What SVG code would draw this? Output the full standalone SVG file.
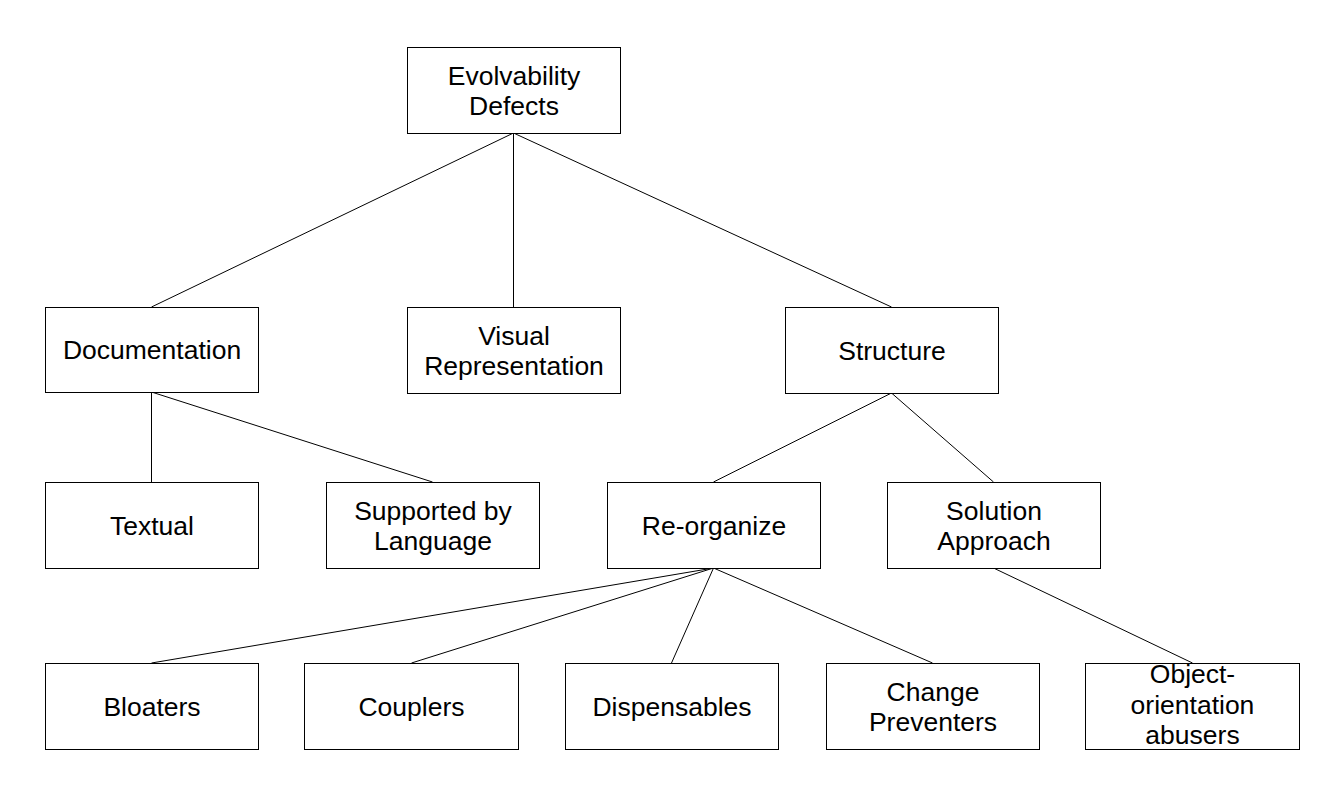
<svg xmlns="http://www.w3.org/2000/svg" width="1319" height="786" viewBox="0 0 1319 786">
<style>
.box{fill:#fff;stroke:#000;stroke-width:1}
.lbl{font-family:"Liberation Sans",Arial,sans-serif;font-size:26.5px;fill:#000;text-anchor:middle}
.con line{stroke:#000;stroke-width:1}
</style>
<rect width="1319" height="786" fill="#fff"/>
<g class="con" id="connectors">
<line x1="513.5" y1="133" x2="151.5" y2="307"/>
<line x1="513.5" y1="133" x2="513.5" y2="307"/>
<line x1="513.5" y1="133" x2="891.5" y2="307"/>
<line x1="151.5" y1="392" x2="151.5" y2="482"/>
<line x1="151.5" y1="392" x2="432.5" y2="482"/>
<line x1="891.5" y1="393" x2="713.5" y2="482"/>
<line x1="891.5" y1="393" x2="993.5" y2="482"/>
<line x1="713.5" y1="568" x2="151.5" y2="663"/>
<line x1="713.5" y1="568" x2="411.5" y2="663"/>
<line x1="713.5" y1="568" x2="671.5" y2="663"/>
<line x1="713.5" y1="568" x2="932.5" y2="663"/>
<line x1="993.5" y1="568" x2="1192.5" y2="663"/>
</g>
<g id="evolvability"><rect class="box" x="407.5" y="47.5" width="213" height="86"/><text class="lbl" x="514" y="85">Evolvability</text><text class="lbl" x="514" y="115">Defects</text></g>
<g id="documentation"><rect class="box" x="45.5" y="307.5" width="213" height="85"/><text class="lbl" x="152" y="359">Documentation</text></g>
<g id="visual"><rect class="box" x="407.5" y="307.5" width="213" height="86"/><text class="lbl" x="514" y="345">Visual</text><text class="lbl" x="514" y="375">Representation</text></g>
<g id="structure"><rect class="box" x="785.5" y="307.5" width="213" height="86"/><text class="lbl" x="892" y="360">Structure</text></g>
<g id="textual"><rect class="box" x="45.5" y="482.5" width="213" height="86"/><text class="lbl" x="152" y="535">Textual</text></g>
<g id="supported"><rect class="box" x="326.5" y="482.5" width="213" height="86"/><text class="lbl" x="433" y="520">Supported by</text><text class="lbl" x="433" y="550">Language</text></g>
<g id="reorganize"><rect class="box" x="607.5" y="482.5" width="213" height="86"/><text class="lbl" x="714" y="535">Re-organize</text></g>
<g id="solution"><rect class="box" x="887.5" y="482.5" width="213" height="86"/><text class="lbl" x="994" y="520">Solution</text><text class="lbl" x="994" y="550">Approach</text></g>
<g id="bloaters"><rect class="box" x="45.5" y="663.5" width="213" height="86"/><text class="lbl" x="152" y="716">Bloaters</text></g>
<g id="couplers"><rect class="box" x="304.5" y="663.5" width="214" height="86"/><text class="lbl" x="411.5" y="716">Couplers</text></g>
<g id="dispensables"><rect class="box" x="565.5" y="663.5" width="213" height="86"/><text class="lbl" x="672" y="716">Dispensables</text></g>
<g id="changepreventers"><rect class="box" x="826.5" y="663.5" width="213" height="86"/><text class="lbl" x="933" y="701">Change</text><text class="lbl" x="933" y="731">Preventers</text></g>
<g id="objectorientation"><rect class="box" x="1085.5" y="663.5" width="214" height="86"/><text class="lbl" x="1192.5" y="683">Object-</text><text class="lbl" x="1192.5" y="714">orientation</text><text class="lbl" x="1192.5" y="744">abusers</text></g>
</svg>
